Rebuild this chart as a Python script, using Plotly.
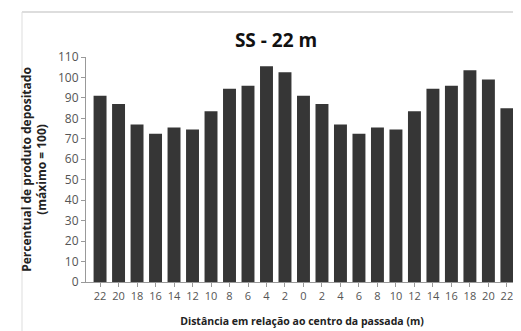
import plotly.graph_objects as go

tick_labels = ["22", "20", "18", "16", "14", "12", "10", "8", "6", "4", "2", "0",
               "2", "4", "6", "8", "10", "12", "14", "16", "18", "20", "22"]
values = [91, 87, 77, 72.5, 75.5, 74.5, 83.5, 94.5, 96, 105.5, 102.5, 91,
          87, 77, 72.5, 75.5, 74.5, 83.5, 94.5, 96, 103.5, 99, 85]
positions = list(range(len(values)))

# page has an 8px body margin, so the figure starts at (8, 8)
OFF = 8
W, H = 521 - OFF, 331 - OFF
L, R, T, B = 86 - OFF, 3, 57 - OFF, 49
pw, ph = W - L - R, H - T - B

def px(x):
    return (x - OFF - L) / pw

def py(y):
    return (H - B - (y - OFF)) / ph

fig = go.Figure(go.Bar(x=positions, y=values, marker_color="#363636",
                       marker_line_width=0))

fig.update_layout(
    width=W, height=H,
    margin=dict(l=L, r=R, t=T, b=B),
    paper_bgcolor="white", plot_bgcolor="white",
    bargap=0.3,
    showlegend=False,
    font=dict(family="Open Sans", color="#444"),
    title=dict(text="<b>SS - 22 m</b>", x=(276 - OFF) / W, xanchor="center",
               y=1 - (40 - OFF) / H, yanchor="middle",
               font=dict(size=19, color="#111", family="Open Sans")),
    xaxis=dict(tickmode="array", tickvals=positions, ticktext=tick_labels,
               range=[-0.76, len(values) - 0.4], showgrid=False,
               showline=True, linecolor="#999", linewidth=1,
               ticks="outside", tickson="boundaries", ticklen=4, tickcolor="#999",
               tickfont=dict(size=11, color="#555"),
               title=dict(text="<b>Distância em relação ao centro da passada (m)</b>",
                          font=dict(size=10.5, color="#222"), standoff=15)),
    yaxis=dict(range=[0, 110], tickvals=list(range(0, 111, 10)), showgrid=False,
               showline=True, linecolor="#999", linewidth=1,
               ticks="outside", ticklen=4, tickcolor="#999",
               tickfont=dict(size=12, color="#555"),
               title=dict(text="<b>Percentual de produto depositado<br>(máximo = 100)</b>",
                          font=dict(size=12, color="#222"), standoff=8)),
    shapes=[
        dict(type="line", xref="paper", yref="paper", x0=px(22), x1=px(521),
             y0=py(12), y1=py(12), line=dict(color="#bbb", width=1)),
        dict(type="line", xref="paper", yref="paper", x0=px(22), x1=px(22),
             y0=py(12), y1=py(331), line=dict(color="#ddd", width=1)),
    ],
)

fig.write_html("out.html")
